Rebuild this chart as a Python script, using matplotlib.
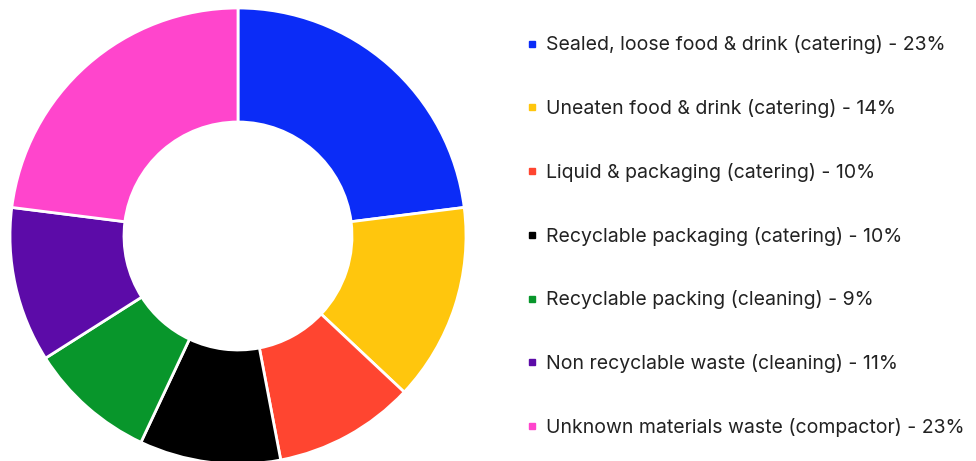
import matplotlib.pyplot as plt
from matplotlib.lines import Line2D

# =========================================================
# DATA
# =========================================================
categories = [
    "Sealed, loose food & drink (catering)",
    "Uneaten food & drink (catering)",
    "Liquid & packaging (catering)",
    "Recyclable packaging (catering)",
    "Recyclable packing (cleaning)",
    "Non recyclable waste (cleaning)",
    "Unknown materials waste (compactor)",
]
shares = [23, 14, 10, 10, 9, 11, 23]
colors = ["#0b2cf7", "#ffc60d", "#ff4530", "#000000", "#08962b", "#5c0ba8", "#ff45cc"]

plt.rcParams["font.family"] = ["Inter", "DejaVu Sans"]

fig = plt.figure(figsize=(9.76, 4.61), dpi=100)

# donut
ax = fig.add_axes([10/976, -3/461, 456/976, 456/461])
ax.pie(
    shares,
    colors=colors,
    startangle=90,
    counterclock=False,
    radius=1,
    wedgeprops=dict(width=0.5, edgecolor="white", linewidth=2),
)
ax.set_xlim(-1, 1)
ax.set_ylim(-1, 1)
ax.set_aspect("equal")
ax.axis("off")

# legend
handles = [
    Line2D([], [], marker="s", linestyle="none", markersize=5,
           markerfacecolor=c, markeredgecolor=c)
    for c in colors
]
labels = [f"{c} - {v}%" for c, v in zip(categories, shares)]

fig.legend(
    handles, labels,
    loc="upper left",
    bbox_to_anchor=(510/976, 1 - 18/461),
    frameon=False,
    fontsize=14,
    handlelength=0.5,
    handletextpad=0.45,
    labelspacing=2.3,
    labelcolor="#222222",
)

fig.savefig("out.png", dpi=100)
